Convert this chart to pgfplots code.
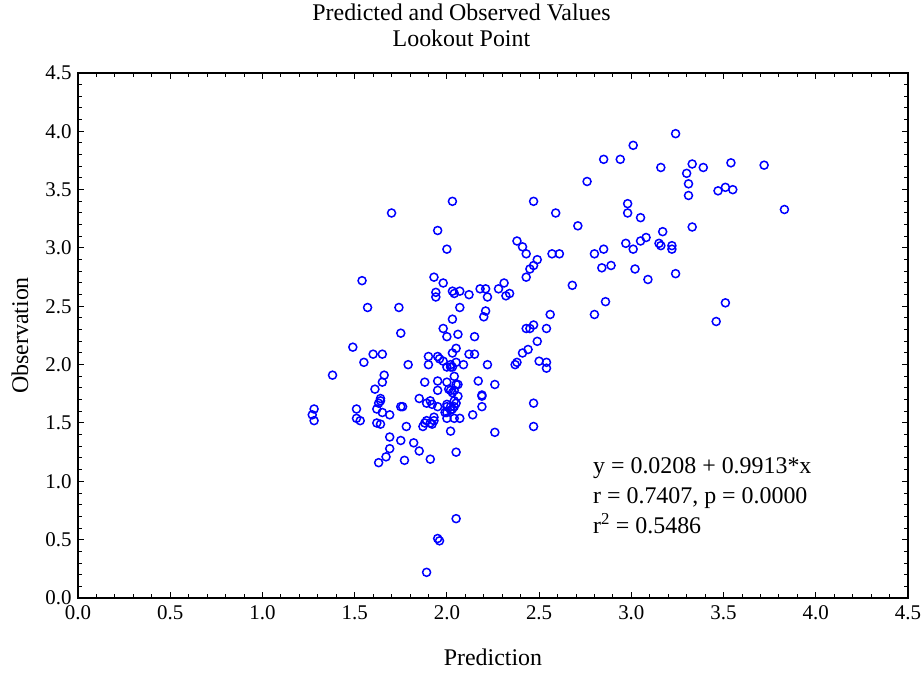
\documentclass[border=0pt]{standalone}
\usepackage{fontspec}
\setmainfont{Liberation Serif}
\usepackage{pgfplots}
\pgfplotsset{compat=1.18}
\pgfkeys{/pgf/number format/assume math mode=true}
\begin{document}
\begin{tikzpicture}
\begin{axis}[
  scale only axis, width=830bp, height=525bp,
  xmin=0, xmax=4.5, ymin=0, ymax=4.5,
  xtick={0,0.5,1,1.5,2,2.5,3,3.5,4,4.5},
  ytick={0,0.5,1,1.5,2,2.5,3,3.5,4,4.5},
  minor tick num=4,
  tick align=inside,
  major tick length=6bp, minor tick length=4bp,
  every tick/.style={black, line width=1bp},
  axis line style={black, line width=1.3bp},
  /pgf/number format/.cd, fixed, fixed zerofill, precision=1, assume math mode=true,
  /pgfplots/.cd,
  tick label style={font=\fontsize{21}{24}\selectfont, black},
  xticklabel style={yshift=-4bp},
  yticklabel style={xshift=-3bp},
  clip=false,
]
\addplot[only marks, mark=o, mark size=4bp, blue, mark options={line width=1.5bp}] table {
x y
1.28 1.62
1.27 1.57
1.28 1.52
1.38 1.91
1.49 2.15
1.51 1.62
1.51 1.54
1.53 1.52
1.54 2.72
1.55 2.02
1.57 2.49
1.60 2.09
1.65 2.09
1.61 1.79
1.62 1.62
1.63 1.67
1.64 1.69
1.64 1.71
1.65 1.85
1.66 1.91
1.65 1.59
1.69 1.57
1.62 1.50
1.64 1.49
1.69 1.38
1.69 1.28
1.67 1.21
1.63 1.16
1.70 3.30
1.74 2.49
1.75 2.27
1.75 1.64
1.76 1.64
1.75 1.35
1.77 1.18
1.78 1.47
1.79 2.00
1.82 1.33
1.85 1.26
1.85 1.71
1.87 1.47
1.88 1.50
1.88 1.85
1.89 1.52
1.89 1.67
1.89 0.22
1.90 2.07
1.90 2.00
1.91 1.69
1.91 1.50
1.91 1.19
1.92 1.66
1.92 1.49
1.93 1.55
1.93 1.52
1.93 2.75
1.94 2.62
1.94 2.58
1.95 3.15
1.95 2.07
1.95 1.86
1.95 1.78
1.95 1.64
1.95 0.51
1.96 0.49
1.96 2.05
1.98 2.70
1.98 2.31
1.98 2.03
1.99 1.59
2.00 2.99
2.00 2.24
2.00 1.98
2.00 1.85
2.00 1.64
2.00 1.54
2.00 1.66
2.00 1.59
2.01 1.79
2.02 1.98
2.02 2.00
2.02 1.78
2.02 1.61
2.02 1.64
2.02 1.43
2.03 3.40
2.03 2.63
2.03 2.39
2.03 2.10
2.03 1.98
2.03 1.76
2.03 1.62
2.04 2.61
2.04 1.90
2.04 1.78
2.04 1.64
2.04 1.69
2.04 1.54
2.05 2.14
2.05 2.02
2.05 1.83
2.05 1.67
2.05 1.25
2.05 0.68
2.06 2.26
2.06 1.83
2.06 1.73
2.07 2.63
2.07 2.49
2.07 1.54
2.09 2.00
2.12 2.60
2.12 2.09
2.14 1.57
2.15 2.24
2.15 2.09
2.17 1.86
2.18 2.65
2.19 1.74
2.19 1.73
2.19 1.64
2.20 2.41
2.21 2.65
2.21 2.46
2.22 2.58
2.22 2.00
2.26 1.83
2.26 1.42
2.28 2.65
2.31 2.70
2.32 2.59
2.34 2.61
2.37 2.00
2.38 2.02
2.38 3.06
2.41 3.01
2.41 2.10
2.43 2.95
2.43 2.75
2.43 2.31
2.44 2.13
2.45 2.82
2.45 2.31
2.47 3.40
2.47 2.85
2.47 2.34
2.47 1.67
2.47 1.47
2.49 2.90
2.49 2.20
2.50 2.03
2.54 2.31
2.54 2.02
2.54 1.97
2.56 2.43
2.57 2.95
2.59 3.30
2.61 2.95
2.68 2.68
2.71 3.19
2.76 3.57
2.80 2.95
2.80 2.43
2.84 2.83
2.85 3.76
2.85 2.99
2.86 2.54
2.89 2.85
2.94 3.76
2.97 3.04
2.98 3.38
2.98 3.30
3.01 3.88
3.01 2.99
3.02 2.82
3.05 3.26
3.05 3.06
3.08 3.09
3.09 2.73
3.15 3.04
3.16 3.02
3.16 3.69
3.17 3.14
3.22 3.02
3.22 2.99
3.24 3.98
3.24 2.78
3.30 3.64
3.31 3.55
3.31 3.45
3.33 3.72
3.33 3.18
3.39 3.69
3.46 2.37
3.47 3.49
3.51 3.52
3.51 2.53
3.54 3.73
3.55 3.50
3.72 3.71
3.83 3.33
};
\node[anchor=base west, font=\fontsize{24}{27}\selectfont] at (axis cs:2.774,1.07) {y = 0.0208 + 0.9913*x};
\node[anchor=base west, font=\fontsize{24}{27}\selectfont] at (axis cs:2.774,0.81) {r = 0.7407, p = 0.0000};
\node[anchor=base west, font=\fontsize{24}{27}\selectfont] at (axis cs:2.774,0.55) {r\textsuperscript{2} = 0.5486};
\node[anchor=base, font=\fontsize{24}{27}\selectfont] at (rel axis cs:0.462,1) [yshift=52bp] {Predicted and Observed Values};
\node[anchor=base, font=\fontsize{24}{27}\selectfont] at (rel axis cs:0.462,1) [yshift=26bp] {Lookout Point};
\node[anchor=base, font=\fontsize{24}{27}\selectfont] at (rel axis cs:0.5,0) [yshift=-67bp] {Prediction};
\node[xshift=-58bp, rotate=90, anchor=center, font=\fontsize{24}{27}\selectfont] at (rel axis cs:0,0.5) {Observation};
\end{axis}
\pgfresetboundingbox
\path[use as bounding box] (-78bp,-75bp) rectangle (845bp,598bp);
\end{tikzpicture}
\end{document}
